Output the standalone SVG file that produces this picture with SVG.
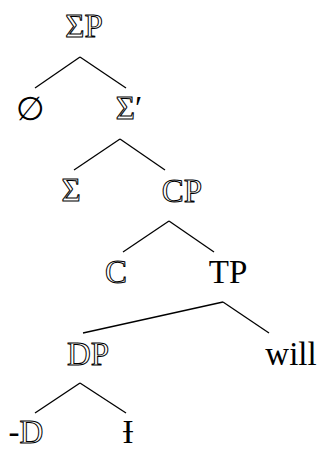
<svg xmlns="http://www.w3.org/2000/svg" width="325" height="449" viewBox="0 0 325 449">
<style>
text{font-family:"Liberation Serif","DejaVu Serif",serif;font-size:33px;text-anchor:middle}
.o{fill:#fff;stroke:#000;stroke-width:1}
.s{fill:#000;stroke:none}
.e line{stroke:#000;stroke-width:1.3;fill:none}
</style>
<rect width="325" height="449" fill="#fff"/>
<g class="e" id="connectors">
<line x1="80" y1="57" x2="35" y2="88"/>
<line x1="80" y1="57" x2="126" y2="88"/>
<line x1="120" y1="139" x2="74" y2="170"/>
<line x1="120" y1="139" x2="165" y2="170"/>
<line x1="169" y1="221" x2="123" y2="252"/>
<line x1="169" y1="221" x2="214" y2="252"/>
<line x1="223" y1="302" x2="83" y2="333"/>
<line x1="223" y1="302" x2="269" y2="333"/>
<line x1="80" y1="383" x2="35" y2="413"/>
<line x1="80" y1="383" x2="126" y2="413"/>
</g>
<g id="n-SigmaP"><text x="84" y="37" class="o">ΣP</text></g>
<g id="n-empty"><text x="30" y="120" class="s" style="font-family:'DejaVu Sans',sans-serif;font-size:33px">∅</text></g>
<g id="n-SigmaBar"><text x="129" y="119" class="o">Σ<tspan class="s">′</tspan></text></g>
<g id="n-Sigma"><text x="71" y="201" class="o">Σ</text></g>
<g id="n-CP"><text x="182" y="202" class="o">CP</text></g>
<g id="n-C"><text x="116" y="283" class="o">C</text></g>
<g id="n-TP"><text x="228" y="283" class="s">TP</text></g>
<g id="n-DP"><text x="88" y="365" class="o">DP</text></g>
<g id="n-will"><text x="291" y="365" class="s">will</text></g>
<g id="n-D"><text x="26" y="443"><tspan class="s">-</tspan><tspan class="o">D</tspan></text></g>
<g id="n-I"><text x="128" y="443" class="s">Ɨ</text></g>
</svg>
